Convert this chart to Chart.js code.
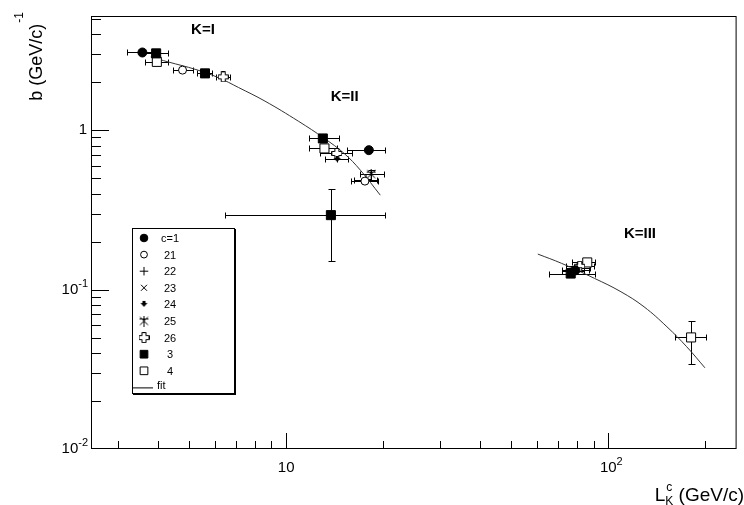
<!DOCTYPE html>
<html>
<head>
<meta charset="utf-8">
<script src="https://cdn.jsdelivr.net/npm/chart.js@4.4.0/dist/chart.umd.min.js"></script>
<style>
  html, body { margin: 0; padding: 0; background: #fff; }
  #wrap { width: 744px; height: 505px; }
</style>
</head>
<body>
<div id="wrap"><canvas id="bChart"></canvas></div>
<script>
// each point: [x, y, xLow, xHigh, yLow, yHigh]
const c1  = [[3.58, 3.07, 3.2, 4.0, 3.0, 3.15], [18.06, 0.749, 15.5, 20.3, 0.72, 0.78], [79, 0.132, 72, 87, 0.128, 0.136]];
const s21 = [[4.77, 2.38, 4.47, 5.13, 2.33, 2.43], [17.56, 0.479, 15.9, 19.3, 0.46, 0.5]];
const s22 = [[17.7, 0.49, 16.2, 19.2, 0.47, 0.51], [80, 0.137, 74, 88, 0.133, 0.141]];
const s23 = [[77.5, 0.13, 72, 84, 0.126, 0.134]];
const s24 = [[14.4, 0.655, 13.2, 15.6, 0.63, 0.68]];
const s25 = [[18.36, 0.53, 16.9, 20.1, 0.49, 0.565]];
const s26 = [[6.38, 2.16, 6.07, 6.68, 2.1, 2.22], [14.37, 0.714, 12.78, 16.05, 0.69, 0.74], [81.5, 0.14, 74, 90, 0.136, 0.144]];
const s3  = [[3.95, 3.03, 3.6, 4.3, 2.96, 3.1], [5.6, 2.27, 5.3, 5.9, 2.22, 2.32], [13, 0.887, 11.8, 14.6, 0.86, 0.91],
             [13.77, 0.293, 6.45, 20.3, 0.151, 0.427], [76.4, 0.126, 65.3, 90.6, 0.122, 0.13]];
const s4  = [[3.97, 2.68, 3.65, 4.3, 2.62, 2.74], [13.15, 0.768, 11.8, 14.4, 0.74, 0.8], [86, 0.148, 77, 91, 0.143, 0.153],
             [180.6, 0.0501, 161, 201, 0.034, 0.0637]];

// fit curves
const fitAX = [3.8, 4.3, 5.25, 6.18, 7.12, 8.6, 10.9, 13.15, 15.14, 17.0, 19.6];
const fitAY = [2.88, 2.68, 2.40, 2.13, 1.85, 1.52, 1.14, 0.887, 0.714, 0.561, 0.391];
const fitBX = [60.4, 71.6, 90.6, 109.4, 129, 152, 175, 199.4];
const fitBY = [0.167, 0.146, 0.1175, 0.0969, 0.078, 0.0584, 0.0438, 0.0323];

const xTickVals = [10, 100];
const xTickExp  = [null, '2'];
const yTickVals = [1, 0.1, 0.01];
const yTickExp  = [null, '-1', '-2'];

const groupLabels = ['K=I', 'K=II', 'K=III'];
const groupX = [5.52, 15.2, 125.3];
const groupY = [4.24, 1.61, 0.223];

const FONT = '"Liberation Sans", Arial, Helvetica, sans-serif';

function markerCanvas(draw) {
  const c = document.createElement('canvas');
  c.width = 11; c.height = 11;
  const g = c.getContext('2d');
  g.fillStyle = '#000'; g.strokeStyle = '#000'; g.lineWidth = 1;
  draw(g);
  return c;
}
// open cross (26)
const openCross = markerCanvas(g => {
  g.fillStyle = '#fff';
  g.beginPath();
  g.moveTo(3.5, 0.5); g.lineTo(7.5, 0.5); g.lineTo(7.5, 3.5); g.lineTo(10.5, 3.5); g.lineTo(10.5, 7.5);
  g.lineTo(7.5, 7.5); g.lineTo(7.5, 10.5); g.lineTo(3.5, 10.5); g.lineTo(3.5, 7.5); g.lineTo(0.5, 7.5);
  g.lineTo(0.5, 3.5); g.lineTo(3.5, 3.5); g.closePath();
  g.fill(); g.stroke();
});
// small pin marker (24)
const pin = markerCanvas(g => {
  g.beginPath(); g.moveTo(2, 4); g.lineTo(9, 4); g.lineTo(5.5, 8); g.closePath(); g.fill();
  g.fillRect(4, 2, 3, 3);
});
// star-like marker (25)
const star = markerCanvas(g => {
  g.beginPath();
  g.moveTo(5.5, 0); g.lineTo(5.5, 11);
  g.moveTo(1, 3.5); g.lineTo(10, 3.5);
  g.moveTo(1.5, 9.5); g.lineTo(9.5, 1.5);
  g.moveTo(1.5, 1.5); g.lineTo(9.5, 9.5);
  g.stroke();
});

function pts(arr) {
  return arr.map(p => ({ x: p[0], y: p[1], xLo: p[2], xHi: p[3], yLo: p[4], yHi: p[5] }));
}

function series(label, arr, style, radius, fill) {
  return {
    label, data: pts(arr), showLine: false,
    pointStyle: style, pointRadius: radius, pointHoverRadius: radius,
    borderColor: '#000', backgroundColor: fill, pointBorderWidth: 1, errorBars: true
  };
}

const datasets = [
  series('c=1', c1, 'circle', 4.5, '#000'),
  series('21', s21, 'circle', 4, '#fff'),
  series('22', s22, 'cross', 5, '#000'),
  series('23', s23, 'crossRot', 5, '#000'),
  series('24', s24, pin, 5, '#000'),
  series('25', s25, star, 5, '#000'),
  series('26', s26, openCross, 5, '#fff'),
  series('3', s3, 'rect', 6.4, '#000'),
  series('4', s4, 'rect', 6.4, '#fff'),
  {
    label: 'fit', data: fitAX.map((x, i) => ({ x, y: fitAY[i] })), showLine: true,
    borderColor: '#333', borderWidth: 1, pointRadius: 0, tension: 0.4, fill: false
  },
  {
    label: 'fit2', data: fitBX.map((x, i) => ({ x, y: fitBY[i] })), showLine: true,
    borderColor: '#333', borderWidth: 1, pointRadius: 0, tension: 0.4, fill: false
  }
];

// error bars drawn before the markers
const errorBars = {
  id: 'errorBars',
  beforeDatasetsDraw(chart) {
    const { ctx, scales: { x, y } } = chart;
    ctx.save();
    ctx.strokeStyle = '#000';
    ctx.lineWidth = 1;
    ctx.beginPath();
    chart.data.datasets.forEach(ds => {
      if (!ds.errorBars) return;
      ds.data.forEach(p => {
        const px = Math.round(x.getPixelForValue(p.x)) + 0.5;
        const py = Math.round(y.getPixelForValue(p.y)) + 0.5;
        const xl = Math.round(x.getPixelForValue(p.xLo)) + 0.5;
        const xh = Math.round(x.getPixelForValue(p.xHi)) + 0.5;
        const yl = Math.round(y.getPixelForValue(p.yLo)) + 0.5;
        const yh = Math.round(y.getPixelForValue(p.yHi)) + 0.5;
        ctx.moveTo(xl, py); ctx.lineTo(xh, py);
        ctx.moveTo(xl, py - 3); ctx.lineTo(xl, py + 3);
        ctx.moveTo(xh, py - 3); ctx.lineTo(xh, py + 3);
        ctx.moveTo(px, yl); ctx.lineTo(px, yh);
        if (yl - yh > 8) {
          ctx.moveTo(px - 3, yl); ctx.lineTo(px + 4, yl);
          ctx.moveTo(px - 3, yh); ctx.lineTo(px + 4, yh);
        }
      });
    });
    ctx.stroke();
    ctx.restore();
  }
};

function supText(ctx, base, exp, xRight, yMid, size) {
  ctx.font = size + 'px ' + FONT;
  const bw = ctx.measureText(base).width;
  let ew = 0;
  if (exp) { ctx.font = Math.round(size * 0.72) + 'px ' + FONT; ew = ctx.measureText(exp).width; }
  const x0 = xRight - bw - ew;
  ctx.font = size + 'px ' + FONT;
  ctx.textBaseline = 'middle'; ctx.textAlign = 'left';
  ctx.fillText(base, x0, yMid);
  if (exp) {
    ctx.font = Math.round(size * 0.72) + 'px ' + FONT;
    ctx.fillText(exp, x0 + bw, yMid - size * 0.38);
  }
}

// ROOT-like frame, inward ticks, labels, legend and titles
const rootFrame = {
  id: 'rootFrame',
  afterDraw(chart) {
    const { ctx, chartArea: a, scales: { x, y } } = chart;
    ctx.save();
    ctx.strokeStyle = '#000';
    ctx.fillStyle = '#000';
    ctx.lineWidth = 1;
    ctx.strokeRect(a.left + 0.5, a.top + 0.5, a.right - a.left - 1, a.bottom - a.top - 1);

    ctx.beginPath();
    for (let d = -3; d <= 3; d++) {
      for (let m = 1; m <= 9; m++) {
        const v = m * Math.pow(10, d);
        if (v > x.min * 1.001 && v < x.max * 0.999) {
          const px = Math.round(x.getPixelForValue(v)) + 0.5;
          ctx.moveTo(px, a.bottom); ctx.lineTo(px, a.bottom - (m === 1 ? 16 : 8));
        }
        if (v > y.min * 1.001 && v < y.max * 0.999) {
          const py = Math.round(y.getPixelForValue(v)) + 0.5;
          ctx.moveTo(a.left, py); ctx.lineTo(a.left + (m === 1 ? 18 : 10), py);
        }
      }
    }
    ctx.stroke();

    // tick labels
    xTickVals.forEach((v, i) => {
      const px = x.getPixelForValue(v);
      ctx.font = '15px ' + FONT;
      const bw = ctx.measureText('10').width;
      supText(ctx, '10', xTickExp[i], px + bw / 2 + (xTickExp[i] ? 6 : 0), a.bottom + 19, 15);
    });
    yTickVals.forEach((v, i) => {
      const py = y.getPixelForValue(v);
      if (yTickExp[i]) supText(ctx, '10', yTickExp[i], a.left - 3, py, 15);
      else supText(ctx, '1', null, a.left - 4, py, 15);
    });

    // group labels
    ctx.font = 'bold 15px ' + FONT;
    ctx.textAlign = 'center'; ctx.textBaseline = 'middle';
    groupLabels.forEach((t, i) => ctx.fillText(t, x.getPixelForValue(groupX[i]), y.getPixelForValue(groupY[i])));

    // x title: L_K^c (GeV/c)
    ctx.textAlign = 'left'; ctx.textBaseline = 'alphabetic';
    ctx.font = '19px ' + FONT;
    const rest = ' (GeV/c)';
    const rw = ctx.measureText(rest).width;
    const lw = ctx.measureText('L').width;
    const xr = 744;
    const xb = 501;
    ctx.fillText(rest, xr - rw, xb);
    ctx.font = '12px ' + FONT;
    const sw = Math.max(ctx.measureText('K').width, ctx.measureText('c').width);
    ctx.fillText('K', xr - rw - sw, xb + 4);
    ctx.fillText('c', xr - rw - sw + 1, xb - 10);
    ctx.font = '19px ' + FONT;
    ctx.fillText('L', xr - rw - sw - lw, xb);

    // y title: b (GeV/c)^-1, rotated
    ctx.save();
    ctx.translate(42, 12);
    ctx.rotate(-Math.PI / 2);
    ctx.font = '12px ' + FONT;
    const ew2 = ctx.measureText('-1').width;
    ctx.font = '18px ' + FONT;
    const bw2 = ctx.measureText('b (GeV/c)').width;
    ctx.textAlign = 'left';
    ctx.fillText('b (GeV/c)', -bw2 - ew2 - 1, 0);
    ctx.font = '12px ' + FONT;
    ctx.fillText('-1', -ew2, -19);
    ctx.restore();

    // legend
    const L = { left: 132, top: 228, w: 103, h: 166, row0: 238, step: 16.6 };
    ctx.fillStyle = '#fff';
    ctx.fillRect(L.left, L.top, L.w, L.h);
    ctx.fillStyle = '#000';
    ctx.fillRect(L.left + 1, L.top + L.h, L.w, 1);
    ctx.fillRect(L.left + L.w, L.top + 1, 1, L.h);
    ctx.strokeRect(L.left + 0.5, L.top + 0.5, L.w - 1, L.h - 1);
    ctx.font = '11px ' + FONT;
    ctx.textBaseline = 'middle';
    const entries = chart.data.datasets.filter(d => d.label !== 'fit2');
    entries.forEach((ds, i) => {
      const ry = L.row0 + i * L.step;
      if (ds.label === 'fit') {
        ctx.beginPath(); ctx.moveTo(L.left + 1, ry + 0.5); ctx.lineTo(L.left + 21, ry + 0.5); ctx.stroke();
        ctx.textAlign = 'left';
        ctx.fillText('fit', L.left + 25, ry - 1);
        return;
      }
      ctx.save();
      ctx.fillStyle = ds.backgroundColor;
      ctx.strokeStyle = ds.borderColor;
      ctx.lineWidth = 1;
      Chart.helpers.drawPoint(ctx, { pointStyle: ds.pointStyle, radius: ds.pointRadius * 0.85, rotation: 0, borderWidth: 1 }, L.left + 12, ry);
      ctx.restore();
      ctx.textAlign = 'center';
      ctx.fillText(ds.label, L.left + 38, ry + 1);
    });
    ctx.restore();
  }
};

new Chart('bChart', {
  type: 'scatter',
  data: { datasets },
  options: {
    responsive: true,
    maintainAspectRatio: false,
    animation: false,
    layout: { padding: { left: 91, right: 1, top: 16, bottom: 56 } },
    scales: {
      x: { type: 'logarithmic', min: 2.48, max: 250, display: false },
      y: { type: 'logarithmic', min: 0.01, max: 5.2, display: false }
    },
    plugins: { legend: { display: false }, tooltip: { enabled: false } }
  },
  plugins: [errorBars, rootFrame]
});
</script>
</body>
</html>
